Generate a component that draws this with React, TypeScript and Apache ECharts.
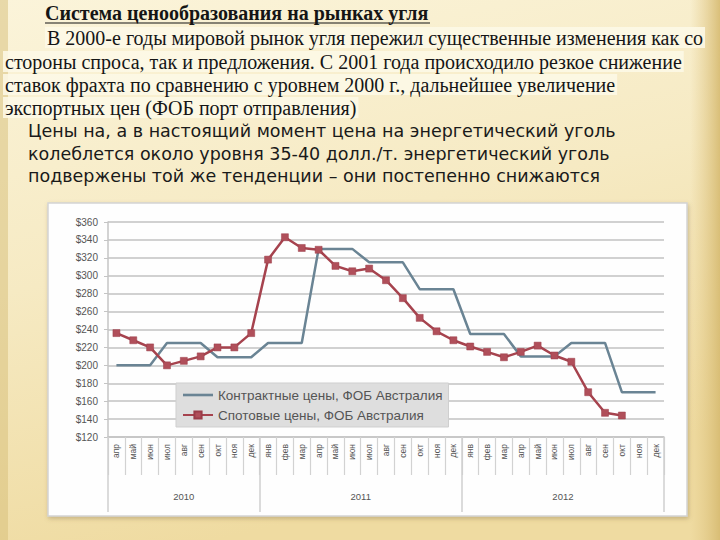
import React, { useEffect, useRef } from "react";
import * as echarts from "echarts";

const monthLabels = [
  "апр", "май", "июн", "июл", "авг", "сен", "окт", "ноя", "дек",
  "янв", "фев", "мар", "апр", "май", "июн", "июл", "авг", "сен", "окт", "ноя", "дек",
  "янв", "фев", "мар", "апр", "май", "июн", "июл", "авг", "сен", "окт", "ноя", "дек",
];
const yearLabels = ["2010", "2011", "2012"];
const yearMonthCounts = [9, 12, 12];

const contractPrices = [
  200, 200, 200, 225, 225, 225, 209, 209, 209,
  225, 225, 225, 330, 330, 330, 315, 315, 315, 285, 285, 285, 235, 235, 235,
  210, 210, 210, 225, 225, 225, 170, 170, 170,
];
const spotPrices = [
  236, 228, 220, 200, 205, 210, 220, 220, 236,
  318, 343, 331, 329, 311, 305, 308, 295, 275, 253, 238, 228, 221,
  215, 209, 215, 222, 211, 204, 170, 147, 144,
];
const seriesNames = ["Контрактные цены, ФОБ Австралия", "Спотовые цены, ФОБ Австралия"];
const yMin = 120;
const yMax = 360;
const yStep = 20;

const titleText = "Система ценообразования на рынках угля";
const serifLines = [
  "В 2000-е годы мировой рынок угля пережил существенные изменения как со",
  "стороны спроса, так и предложения. С 2001 года происходило резкое снижение",
  "ставок фрахта по сравнению с уровнем 2000 г., дальнейшее увеличение",
  "экспортных цен (ФОБ порт отправления)",
];
const sansLines = [
  "Цены на, а в настоящий момент цена на энергетический уголь",
  "колеблется около уровня 35-40 долл./т. энергетический уголь",
  "подвержены той же тенденции – они постепенно снижаются",
];

export default function App() {
  const ref = useRef<HTMLDivElement>(null);
  useEffect(() => {
    if (!ref.current) return;
    const chart = echarts.init(ref.current, null, { renderer: "svg" });

    const gridLeft = 108;
    const gridRight = 56;
    const gridWidth = 720 - gridLeft - gridRight;
    const band = gridWidth / monthLabels.length;

    const yearLabelIndex: Record<number, { text: string; shifted: boolean }> = {};
    let start = 0;
    yearLabels.forEach((y, k) => {
      const n = yearMonthCounts[k];
      if (n % 2 === 1) yearLabelIndex[start + (n - 1) / 2] = { text: y, shifted: false };
      else yearLabelIndex[start + n / 2 - 1] = { text: y, shifted: true };
      start += n;
    });
    const yearStarts: number[] = [];
    let acc = 0;
    yearMonthCounts.forEach((n) => { yearStarts.push(acc); acc += n; });

    const serifFont = '"Liberation Serif", "DejaVu Serif", serif';
    const sansFont = '"DejaVu Sans", sans-serif';

    const graphics: any[] = [
      {
        type: "rect", z: -20, silent: true,
        shape: { x: 690, y: 0, width: 30, height: 540 },
        style: { fill: new echarts.graphic.LinearGradient(0, 0, 1, 0, [
          { offset: 0, color: "rgba(226,200,135,0)" },
          { offset: 1, color: "rgba(214,186,112,0.9)" },
        ]) },
      },
      {
        type: "rect", z: -20, silent: true,
        shape: { x: 0, y: 0, width: 8, height: 540 },
        style: { fill: "rgba(214,190,120,0.5)" },
      },
    ];
    const serifStarts = [45, 3, 3, 3];
    const serifTops = [27, 51, 74, 97];
    serifLines.forEach((line, i) => {
      graphics.push({
        type: "text", z: 5,
        style: {
          text: line, x: serifStarts[i], y: serifTops[i],
          font: `20px ${serifFont}`, fill: "#151515",
          backgroundColor: "rgba(253,249,232,0.85)",
          padding: [1, 2, 0, 2],
        },
      });
    });
    graphics.push({
      type: "text", z: 5,
      style: { text: titleText, x: 45, y: 3, font: `bold 20px ${serifFont}`, fill: "#151515" },
    });
    graphics.push({
      type: "line", z: 5,
      shape: { x1: 45, y1: 23, x2: 430, y2: 23 },
      style: { stroke: "#151515", lineWidth: 1.2 },
    });
    const sansTops = [122, 145, 167];
    sansLines.forEach((line, i) => {
      graphics.push({
        type: "text", z: 5,
        style: { text: line, x: 28, y: sansTops[i], font: `17.5px ${sansFont}`, fill: "#1a1a1a" },
      });
    });
    graphics.push({
      type: "rect", z: -10, silent: true,
      shape: { x: 48, y: 203, width: 639, height: 313 },
      style: {
        fill: "#fefefe", stroke: "#d4d4d4", lineWidth: 1.5,
        shadowBlur: 4, shadowColor: "rgba(120,100,60,0.35)", shadowOffsetX: 1, shadowOffsetY: 2,
      },
    });

    const option: any = {
      animation: false,
      backgroundColor: new echarts.graphic.LinearGradient(0, 0, 0.3, 1, [
        { offset: 0, color: "#fbf4da" },
        { offset: 0.5, color: "#f6eac3" },
        { offset: 1, color: "#efdba1" },
      ]),
      textStyle: { fontFamily: '"Liberation Sans", Arial, sans-serif' },
      graphic: graphics,
      grid: { left: gridLeft, right: gridRight, top: 222, bottom: 103, containLabel: false },
      legend: {
        orient: "vertical",
        left: 176,
        top: 383,
        backgroundColor: "#dedede",
        borderColor: "#cfcfcf",
        borderWidth: 1,
        padding: [5, 6, 5, 6],
        itemGap: 6,
        itemWidth: 30,
        itemHeight: 9,
        textStyle: { fontSize: 13.5, color: "#555" },
        data: [
          { name: seriesNames[0], icon: "path://M0,0 L30,0 L30,2.6 L0,2.6 Z", itemStyle: { color: "#6a8494" } },
          { name: seriesNames[1] },
        ],
      },
      xAxis: [
        {
          type: "category",
          data: monthLabels,
          boundaryGap: true,
          axisLine: { show: true, lineStyle: { color: "#c4c4c4", width: 1.5 } },
          axisTick: { show: true, interval: 0, length: 38, lineStyle: { color: "#d2d2d2", width: 1.2 } },
          axisLabel: { interval: 0, rotate: 90, fontSize: 8.5, color: "#555", margin: 7 },
        },
        {
          type: "category",
          data: monthLabels.map((_, i) => String(i)),
          position: "bottom",
          boundaryGap: true,
          axisLine: { show: false },
          axisTick: {
            show: true,
            length: 75,
            interval: (index: number) => yearStarts.indexOf(index) >= 0,
            lineStyle: { color: "#cfcfcf", width: 1.5 },
          },
          axisLabel: {
            interval: 0,
            margin: 54,
            fontSize: 9.5,
            color: "#555",
            formatter: (_v: string, index: number) => {
              const e = yearLabelIndex[index];
              if (!e) return "";
              return e.shifted ? `{s|${e.text}}` : `{c|${e.text}}`;
            },
            rich: {
              s: { padding: [0, 0, 0, band], fontSize: 9.5, color: "#555" },
              c: { fontSize: 9.5, color: "#555" },
            },
          },
        },
      ],
      yAxis: {
        type: "value",
        min: yMin,
        max: yMax,
        interval: yStep,
        axisLine: { show: true, lineStyle: { color: "#c4c4c4", width: 1.5 } },
        axisTick: { show: true, length: 4, lineStyle: { color: "#c4c4c4" } },
        axisLabel: { fontSize: 10, color: "#555", margin: 10, formatter: (v: number) => `$${v}` },
        splitLine: { show: true, lineStyle: { color: "#c2c2c2", width: 1.6 } },
      },
      series: [
        {
          name: seriesNames[0],
          type: "line",
          data: contractPrices,
          symbol: "none",
          lineStyle: { color: "#6a8494", width: 2.5 },
          itemStyle: { color: "#6a8494" },
          z: 3,
        },
        {
          name: seriesNames[1],
          type: "line",
          data: spotPrices,
          symbol: "rect",
          symbolSize: 7,
          lineStyle: { color: "#a6434e", width: 2.5 },
          itemStyle: { color: "#b04f5a", borderColor: "#9a3d48", borderWidth: 0.5 },
          z: 4,
        },
      ],
    };
    chart.setOption(option);
    return () => chart.dispose();
  }, []);
  return (
    <div
      ref={ref}
      style={{ position: "fixed", left: 0, top: 0, width: 720, height: 540 }}
    />
  );
}
